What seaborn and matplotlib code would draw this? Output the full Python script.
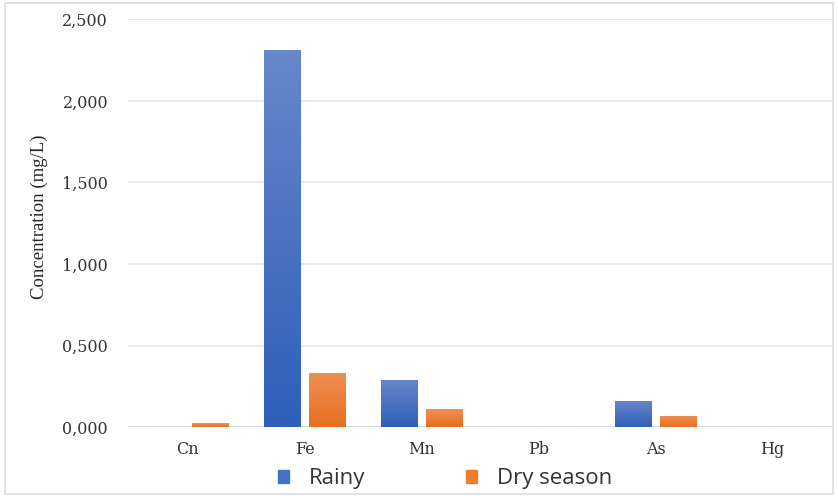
import numpy as np
import pandas as pd
import seaborn as sns
import matplotlib.pyplot as plt
from matplotlib.ticker import FuncFormatter
from matplotlib.patches import Rectangle
from matplotlib.colors import LinearSegmentedColormap, to_hex

# values (mg/L)
elements = ['Cn', 'Fe', 'Mn', 'Pb', 'As', 'Hg']
rainy = [0.0, 2.31, 0.29, 0.0, 0.16, 0.0]
dry_season = [0.022, 0.332, 0.11, 0.0, 0.068, 0.0]
series_names = ['Rainy', 'Dry season']

df = pd.DataFrame({
    'element': elements * 2,
    'value': rainy + dry_season,
    'season': [series_names[0]] * len(elements) + [series_names[1]] * len(elements),
})

sns.set_style('white')
plt.rcParams['font.family'] = ['DejaVu Serif', 'Liberation Serif']

fig = plt.figure(figsize=(8.38, 4.96), dpi=100)
ax = fig.add_axes([0.153, 0.139, 0.840, 0.822])

palette = {'Rainy': '#4472C4', 'Dry season': '#ED7D31'}
sns.barplot(data=df, x='element', y='value', hue='season', palette=palette,
            width=0.77, gap=0.2, ax=ax, legend=False, zorder=3, saturation=1)

# office-style vertical gradient on each bar
grads = {
    to_hex(palette['Rainy']): LinearSegmentedColormap.from_list('b', ['#2f5fb9', '#6787ca']),
    to_hex(palette['Dry season']): LinearSegmentedColormap.from_list('o', ['#e76f1e', '#f08f55']),
}
for bar in list(ax.patches):
    h = bar.get_height()
    if h <= 0:
        continue
    cmap = grads.get(to_hex(bar.get_facecolor()))
    x0, w = bar.get_x(), bar.get_width()
    im = ax.imshow(np.linspace(0, 1, 100).reshape(-1, 1), cmap=cmap, origin='lower',
                   extent=[x0, x0 + w, 0, h], aspect='auto', zorder=4)
    im.set_clip_path(bar)
    bar.set_edgecolor('#ffffff')
    bar.set_linewidth(0.6)

ax.set_ylim(0, 2.5)
ax.set_xlim(-0.51, 5.51)
ax.set_yticks([0, 0.5, 1.0, 1.5, 2.0, 2.5])
ax.yaxis.set_major_formatter(FuncFormatter(lambda v, p: f'{v:.3f}'.replace('.', ',')))
ax.grid(axis='y', color='#e2e6ee', linewidth=1.2, zorder=0)
for s in ax.spines.values():
    s.set_visible(False)
ax.axhline(0, color='#d6dbe6', linewidth=1.2, zorder=2)
ax.tick_params(axis='both', length=0, labelsize=11.5, colors='#333333')
ax.tick_params(axis='x', pad=10)
ax.tick_params(axis='y', pad=14.5)
ax.set_xlabel('')
ax.set_ylabel('Concentration (mg/L)', fontsize=13.5, family=['Liberation Serif', 'DejaVu Serif'])
ax.yaxis.set_label_coords(-0.114, 0.516)

# legend below the axis
handles = [Rectangle((0, 0), 1, 1, color=palette[n]) for n in series_names]
leg = fig.legend(handles, series_names, loc='lower center', bbox_to_anchor=(0.531, -0.027),
                 ncol=2, frameon=False, handlelength=0.5, handleheight=0.5,
                 columnspacing=4.5, handletextpad=0.9,
                 prop={'family': ['Open Sans', 'DejaVu Sans'], 'size': 16})
for t in leg.get_texts():
    t.set_color('#333333')

# thin frame around the whole picture
fig.patches.append(Rectangle((0.006, 0.004), 0.988, 0.99, transform=fig.transFigure,
                             fill=False, edgecolor='#d9dde3', linewidth=1.2))

plt.savefig('out.png', dpi=100)
